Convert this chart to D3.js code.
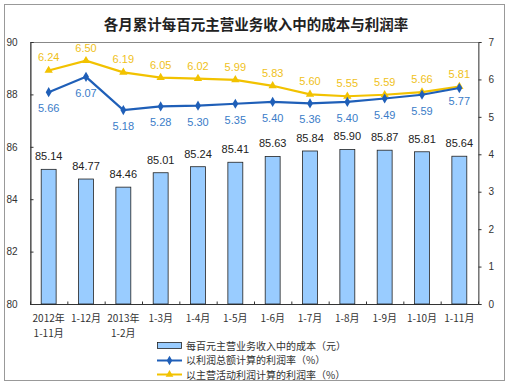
<!DOCTYPE html>
<html>
<head>
<meta charset="utf-8">
<script src="https://cdn.jsdelivr.net/npm/d3@7"></script>
<style>
  body { margin: 0; background: #fff; }
  svg text { font-family: "Liberation Sans", Arial, sans-serif; }
  .cjk { font-family: "Noto Sans CJK SC", sans-serif; }
</style>
</head>
<body>
<div id="chart"></div>
<script>
const months = ["2012年\n1-11月", "1-12月", "2013年\n1-2月", "1-3月", "1-4月", "1-5月", "1-6月", "1-7月", "1-8月", "1-9月", "1-10月", "1-11月"];
const cost = [85.14, 84.77, 84.46, 85.01, 85.24, 85.41, 85.63, 85.84, 85.90, 85.87, 85.81, 85.64];
const totalRate = [5.66, 6.07, 5.18, 5.28, 5.30, 5.35, 5.40, 5.36, 5.40, 5.49, 5.59, 5.77];
const mainRate = [6.24, 6.50, 6.19, 6.05, 6.02, 5.99, 5.83, 5.60, 5.55, 5.59, 5.66, 5.81];
const leftTicks = [80, 82, 84, 86, 88, 90];
const rightTicks = [0, 1, 2, 3, 4, 5, 6, 7];
const legendNames = ["每百元主营业务收入中的成本（元）", "以利润总额计算的利润率（%）", "以主营活动利润计算的利润率（%）"];

const W = 510, H = 386;
const pLeft = 30, pRight = 478, pTop = 42, pBottom = 304;

const svg = d3.select("#chart").append("svg")
    .attr("width", W)
    .attr("height", H);

// outer frame
svg.append("rect")
    .attr("x", 4.5).attr("y", 4.5)
    .attr("width", 500).attr("height", 376)
    .attr("fill", "#fff")
    .attr("stroke", "#999");

svg.append("text")
    .attr("class", "cjk")
    .attr("x", 256).attr("y", 30)
    .attr("text-anchor", "middle")
    .attr("font-size", 14.5)
    .attr("font-weight", "bold")
    .attr("fill", "#222")
    .text("各月累计每百元主营业务收入中的成本与利润率");

const x = d3.scaleBand().domain(months).range([pLeft, pRight]);
const yL = d3.scaleLinear().domain([80, 90]).range([pBottom, pTop]);
const yR = d3.scaleLinear().domain([0, 7]).range([pBottom, pTop]);

// plot frame
svg.append("rect")
    .attr("x", pLeft + 0.5).attr("y", pTop + 0.5)
    .attr("width", pRight - pLeft).attr("height", pBottom - pTop)
    .attr("fill", "none")
    .attr("stroke", "#888");

// left axis
const gL = svg.append("g")
    .attr("transform", `translate(${pLeft + 0.5},0)`)
    .call(d3.axisLeft(yL).tickValues(leftTicks).tickSize(-3).tickPadding(13));
gL.select(".domain").attr("stroke", "#333");
gL.selectAll("line").attr("stroke", "#333");
gL.selectAll("text").attr("font-size", 10).attr("fill", "#333")
    .attr("font-family", "Liberation Sans, Arial, sans-serif");

// right axis
const gR = svg.append("g")
    .attr("transform", `translate(${pRight + 0.5},0)`)
    .call(d3.axisRight(yR).tickValues(rightTicks).tickFormat(d3.format("d")).tickSize(3).tickPadding(7));
gR.select(".domain").attr("stroke", "#666");
gR.selectAll("line").attr("stroke", "#333");
gR.selectAll("text").attr("font-size", 10).attr("fill", "#333")
    .attr("font-family", "Liberation Sans, Arial, sans-serif");

// bottom axis: ticks between categories
const gB = svg.append("g").attr("transform", `translate(0,${pBottom + 0.5})`);
gB.append("line")
    .attr("x1", pLeft).attr("x2", pRight)
    .attr("stroke", "#333");
gB.selectAll("line.tk")
    .data(d3.range(months.length + 1))
    .enter().append("line")
    .attr("class", "tk")
    .attr("x1", i => pLeft + i * x.step() + 0.5)
    .attr("x2", i => pLeft + i * x.step() + 0.5)
    .attr("y1", 0).attr("y2", -3)
    .attr("stroke", "#333");
const xl = gB.selectAll("text.xl")
    .data(months)
    .enter().append("text")
    .attr("class", "xl cjk")
    .attr("font-size", 10)
    .attr("fill", "#333")
    .attr("text-anchor", "middle")
    .attr("transform", d => `translate(${x(d) + x.bandwidth() / 2},0)`);
xl.selectAll("tspan")
    .data(d => d.split("\n"))
    .enter().append("tspan")
    .attr("x", 0)
    .attr("y", (d, i) => 17 + i * 15)
    .text(d => d);

// bars
const bw = x.bandwidth() * 0.4;
svg.selectAll("rect.bar")
    .data(cost)
    .enter().append("rect")
    .attr("class", "bar")
    .attr("x", (d, i) => x(months[i]) + (x.bandwidth() - bw) / 2)
    .attr("y", d => yL(d))
    .attr("width", bw)
    .attr("height", d => pBottom - yL(d))
    .attr("fill", "#99CCFF")
    .attr("stroke", "#222")
    .attr("stroke-width", 0.8);

svg.selectAll("text.bl")
    .data(cost)
    .enter().append("text")
    .attr("class", "bl")
    .attr("x", (d, i) => x(months[i]) + x.bandwidth() / 2)
    .attr("y", d => yL(d) - 9)
    .attr("text-anchor", "middle")
    .attr("font-size", 11)
    .attr("fill", "#222")
    .text(d => d.toFixed(2));

const cx = i => x(months[i]) + x.bandwidth() / 2;
const line = d3.line().x((d, i) => cx(i)).y(d => yR(d));

// yellow series
svg.append("path")
    .datum(mainRate)
    .attr("d", line)
    .attr("fill", "none")
    .attr("stroke", "#F2C200")
    .attr("stroke-width", 2.2);
svg.selectAll("path.ym")
    .data(mainRate)
    .enter().append("path")
    .attr("class", "ym")
    .attr("d", d3.symbol(d3.symbolTriangle, 30))
    .attr("transform", (d, i) => `translate(${cx(i)},${yR(d)})`)
    .attr("fill", "#F2C200");
svg.selectAll("text.yl")
    .data(mainRate)
    .enter().append("text")
    .attr("class", "yl")
    .attr("x", (d, i) => cx(i))
    .attr("y", d => yR(d) - 9)
    .attr("text-anchor", "middle")
    .attr("font-size", 11)
    .attr("fill", "#EFC11A")
    .text(d => d.toFixed(2));

// blue series
svg.append("path")
    .datum(totalRate)
    .attr("d", line)
    .attr("fill", "none")
    .attr("stroke", "#1F5FB8")
    .attr("stroke-width", 2.2);
svg.selectAll("path.bm")
    .data(totalRate)
    .enter().append("path")
    .attr("class", "bm")
    .attr("d", d3.symbol(d3.symbolDiamond, 30))
    .attr("transform", (d, i) => `translate(${cx(i)},${yR(d)})`)
    .attr("fill", "#1F5FB8");
svg.selectAll("text.blb")
    .data(totalRate)
    .enter().append("text")
    .attr("class", "blb")
    .attr("x", (d, i) => cx(i))
    .attr("y", (d, i) => yR(d) + (i === totalRate.length - 1 ? 17 : 20))
    .attr("text-anchor", "middle")
    .attr("font-size", 11)
    .attr("fill", "#3A7CC8")
    .text(d => d.toFixed(2));

// legend
const lg = svg.append("g").attr("transform", "translate(157,0)");
lg.append("rect")
    .attr("x", 0.5).attr("y", 342.5)
    .attr("width", 24).attr("height", 6)
    .attr("fill", "#99CCFF")
    .attr("stroke", "#222")
    .attr("stroke-width", 0.8);
lg.append("line").attr("x1", 0).attr("x2", 25).attr("y1", 360.5).attr("y2", 360.5)
    .attr("stroke", "#1F5FB8").attr("stroke-width", 2);
lg.append("path").attr("d", d3.symbol(d3.symbolDiamond, 26))
    .attr("transform", "translate(12.5,360.5)").attr("fill", "#1F5FB8");
lg.append("line").attr("x1", 0).attr("x2", 25).attr("y1", 374.5).attr("y2", 374.5)
    .attr("stroke", "#F2C200").attr("stroke-width", 2);
lg.append("path").attr("d", d3.symbol(d3.symbolTriangle, 26))
    .attr("transform", "translate(12.5,374.5)").attr("fill", "#F2C200");
lg.selectAll("text.lgt")
    .data(legendNames)
    .enter().append("text")
    .attr("class", "lgt cjk")
    .attr("x", 29)
    .attr("y", (d, i) => 350 + i * 14.3)
    .attr("font-size", 10)
    .attr("fill", "#333")
    .text(d => d);
</script>
</body>
</html>
